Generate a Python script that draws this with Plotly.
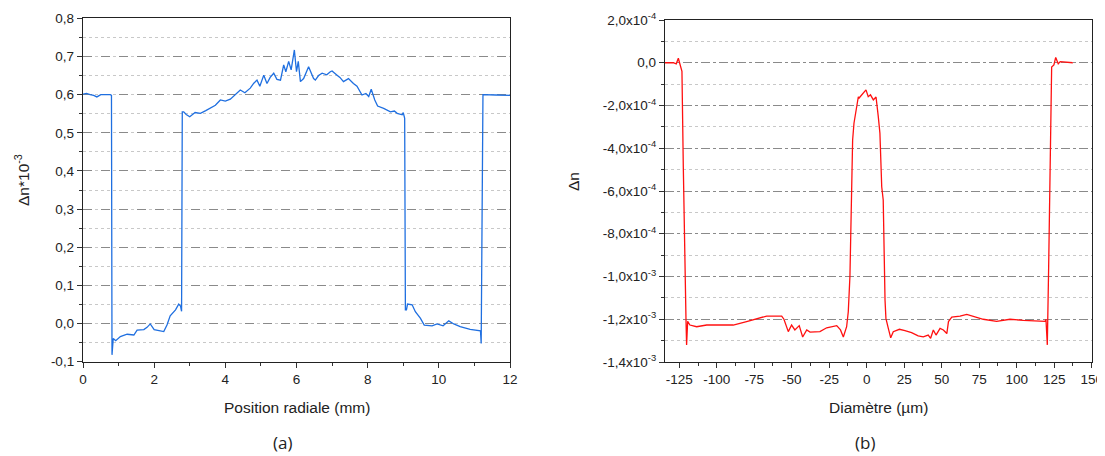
import plotly.graph_objects as go

# ---------------- Panel (a) data: radial position (mm) vs Δn*10^-3 ----------------
pos_a = [0.00, 0.10, 0.20, 0.30, 0.39, 0.50, 0.77, 0.80, 0.815, 0.85, 0.92, 1.05, 1.24, 1.43,
         1.52, 1.71, 1.80, 1.89, 2.00, 2.27, 2.36, 2.45, 2.60, 2.69, 2.74, 2.77, 2.79,
         2.83, 2.90, 3.00, 3.15, 3.30, 3.45, 3.58, 3.72, 3.86, 4.00, 4.14, 4.28, 4.42,
         4.55, 4.70, 4.80, 4.89, 4.97, 5.08, 5.17, 5.26, 5.36, 5.45, 5.55,
         5.64, 5.70, 5.78, 5.85, 5.94, 6.00, 6.05, 6.11, 6.20, 6.34, 6.48, 6.53, 6.62, 6.72,
         6.85, 6.95, 7.00, 7.14, 7.22, 7.32, 7.46, 7.60, 7.70, 7.84, 7.95, 8.03, 8.10, 8.20,
         8.28, 8.45, 8.55, 8.64, 8.75, 8.83, 8.97, 9.00, 9.04, 9.06, 9.09, 9.12, 9.25, 9.34,
         9.48, 9.59, 9.81, 9.95, 10.12, 10.28, 10.42, 10.60, 10.88, 11.17, 11.19, 11.22,
         11.24, 11.60, 12.00]
dn_a = [0.601, 0.603, 0.600, 0.598, 0.594, 0.600, 0.600, 0.598, -0.082, -0.039, -0.045, -0.034,
        -0.028, -0.030, -0.017, -0.016, -0.010, -0.001, -0.016, -0.021, -0.004, 0.020,
        0.036, 0.051, 0.046, 0.032, 0.555,
        0.555, 0.548, 0.542, 0.553, 0.551, 0.558, 0.564, 0.572, 0.586, 0.583, 0.588, 0.600,
        0.612, 0.605, 0.617, 0.630, 0.638, 0.622, 0.651, 0.629, 0.645, 0.656, 0.640, 0.638,
        0.678, 0.660, 0.687, 0.665, 0.717, 0.660, 0.687, 0.634, 0.642, 0.673, 0.642, 0.638,
        0.650, 0.656, 0.652, 0.660, 0.662, 0.651, 0.645, 0.634, 0.642, 0.629, 0.622, 0.599,
        0.603, 0.595, 0.614, 0.586, 0.570, 0.564, 0.560, 0.555, 0.557, 0.551, 0.547, 0.553,
        0.538, 0.036, 0.036, 0.051, 0.049, 0.031, 0.014, -0.004, -0.006, -0.001, -0.006,
        0.007, -0.001, -0.008, -0.015, -0.019, -0.052, 0.600, 0.600, 0.599, 0.598]

# ---------------- Panel (b) data: diameter (µm) vs Δn (x1e-4) ----------------
dia_b = [-134.5, -129.0, -127.0, -125.6, -124.8, -124.0, -123.2, -122.3, -121.9, -121.2,
         -120.5, -120.1, -119.4, -117.9, -113.4, -106.7, -89.0, -80.1, -71.2, -66.7,
         -56.7, -55.2, -52.3, -50.1, -47.9, -45.0, -42.7, -40.0, -37.8, -31.2, -26.7,
         -20.0, -17.5, -15.6, -13.4, -12.3, -11.2, -10.0, -9.4, -8.5, -7.8, -6.7,
         -5.6, -5.1, -3.5, -2.3, -0.5, 1.0, 2.5, 4.4, 6.2, 7.7, 8.8, 10.0, 11.0, 12.2,
         12.8, 14.4, 16.0, 17.7, 21.8, 25.5, 29.9, 34.3, 37.7, 41.0, 42.6, 44.4, 46.2,
         48.9, 51.1, 53.4, 54.5, 56.7, 62.2, 66.7, 72.2, 77.7, 86.6, 95.5, 104.4, 113.3,
         118.9, 119.5, 120.4, 121.3, 122.2, 123.3, 124.8, 126.0, 127.7, 129.0, 137.4]
dn_b = [0.00, 0.00, -0.05, 0.21, 0.00, -0.20, -0.40, -4.86, -6.42, -11.10,
        -12.04, -13.20, -12.10, -12.27, -12.35, -12.27, -12.27, -12.11, -11.96, -11.85,
        -11.85, -12.00, -12.58, -12.27, -12.50, -12.30, -12.83, -12.50, -12.60, -12.58,
        -12.40, -12.30, -12.50, -12.83, -12.35, -11.65, -10.00, -5.80, -3.61, -2.83,
        -2.52, -2.21, -1.59, -1.65, -1.50, -1.43, -1.27, -1.59, -1.50, -1.74, -1.60,
        -2.52, -3.30, -5.80, -6.42, -11.10, -11.96, -12.43, -12.87, -12.58, -12.47,
        -12.53, -12.63, -12.78, -12.82, -12.74, -12.89, -12.50, -12.74, -12.43, -12.50,
        -12.67, -12.11, -11.90, -11.85, -11.77, -11.90, -12.00, -12.10, -12.00, -12.05,
        -12.10, -12.10, -12.00, -13.20, -9.54, -5.80, -0.20, -0.10, 0.25, -0.05, 0.05, 0.00]

# Tick definitions
ticks_a_x = [0, 2, 4, 6, 8, 10, 12]
ticks_a_y = [-0.1, 0.0, 0.1, 0.2, 0.3, 0.4, 0.5, 0.6, 0.7, 0.8]
labels_a_y = ["-0,1", "0,0", "0,1", "0,2", "0,3", "0,4", "0,5", "0,6", "0,7", "0,8"]
ticks_b_x = [-125, -100, -75, -50, -25, 0, 25, 50, 75, 100, 125, 150]
labels_b_x = ["-125", "-100", "-75", "-50", "-25", "0", "25", "50", "75", "100", "125", "150"]
ticks_b_y = [2, 0, -2, -4, -6, -8, -10, -12, -14]
labels_b_y = ["2,0x10<sup>-4</sup>", "0,0", "-2,0x10<sup>-4</sup>", "-4,0x10<sup>-4</sup>",
              "-6,0x10<sup>-4</sup>", "-8,0x10<sup>-4</sup>", "-1,0x10<sup>-3</sup>",
              "-1,2x10<sup>-3</sup>", "-1,4x10<sup>-3</sup>"]

FONT = "Liberation Sans, Arial, sans-serif"
# The page body has an 8px margin, so the figure is drawn at (8, 8) in the window.
OFF = 8
W, H = 1105 - OFF, 456 - OFF


def px(x):
    return (x - OFF) / W


def py(y):
    return 1 - (y - OFF) / H


fig = go.Figure()
fig.add_trace(go.Scatter(x=pos_a, y=dn_a, mode="lines", xaxis="x", yaxis="y",
                         line=dict(color="#1f6fe0", width=1.3), showlegend=False))
fig.add_trace(go.Scatter(x=dia_b, y=dn_b, mode="lines", xaxis="x2", yaxis="y2",
                         line=dict(color="#ff1010", width=1.3), showlegend=False))

common_axis = dict(showline=True, linecolor="#222222", linewidth=1.3, mirror=True,
                   ticks="outside", ticklen=5, tickwidth=1.2, tickcolor="#333333",
                   tickfont=dict(family=FONT, size=13.5, color="#222222"),
                   zeroline=False, automargin=False)

fig.update_layout(
    width=W, height=H,
    margin=dict(l=0, r=0, t=0, b=0, autoexpand=False),
    paper_bgcolor="white", plot_bgcolor="white",
    font=dict(family=FONT, color="#222222"),
    xaxis=dict(domain=[px(83), px(510)], range=[0, 12], tickmode="array", tickvals=ticks_a_x,
               showgrid=False, anchor="y",
               minor=dict(dtick=1, ticks="outside", ticklen=3, tickcolor="#333333", showgrid=False),
               **common_axis),
    yaxis=dict(domain=[py(361.7), py(18.3)], range=[-0.1, 0.8], tickmode="array",
               tickvals=ticks_a_y, ticktext=labels_a_y, anchor="x",
               showgrid=True, gridcolor="#8a8a8a", griddash="dash", gridwidth=1,
               minor=dict(dtick=0.05, tick0=0, ticks="outside", ticklen=3, tickcolor="#333333",
                          showgrid=True, gridcolor="#c8c8c8", griddash="dot", gridwidth=1),
               **common_axis),
    xaxis2=dict(domain=[px(665), px(1091.7)], range=[-134.5, 150], tickmode="array",
                tickvals=ticks_b_x, ticktext=labels_b_x, showgrid=False, anchor="y2",
                minor=dict(dtick=12.5, tick0=0, ticks="outside", ticklen=3, tickcolor="#333333",
                           showgrid=False),
                **common_axis),
    yaxis2=dict(domain=[py(362), py(20)], range=[-14, 2], tickmode="array",
                tickvals=ticks_b_y, ticktext=labels_b_y, anchor="x2",
                showgrid=True, gridcolor="#8a8a8a", griddash="dashdot", gridwidth=1,
                minor=dict(dtick=1, tick0=0, ticks="outside", ticklen=3, tickcolor="#333333",
                           showgrid=True, gridcolor="#c8c8c8", griddash="dot", gridwidth=1),
                **common_axis),
)

ann_font = dict(family=FONT, size=15.5, color="#222222")
fig.add_annotation(text="Position radiale (mm)", xref="paper", yref="paper",
                   x=px(296.5), y=py(407), showarrow=False, font=ann_font,
                   xanchor="center", yanchor="middle")
fig.add_annotation(text="Diamètre (µm)", xref="paper", yref="paper",
                   x=px(878), y=py(407), showarrow=False, font=ann_font,
                   xanchor="center", yanchor="middle")
fig.add_annotation(text="Δn*10<sup>-3</sup>", xref="paper", yref="paper",
                   x=px(22), y=py(180), showarrow=False, font=ann_font, textangle=-90,
                   xanchor="center", yanchor="middle")
fig.add_annotation(text="Δn", xref="paper", yref="paper",
                   x=px(573), y=py(182), showarrow=False, font=ann_font, textangle=-90,
                   xanchor="center", yanchor="middle")
lab_font = dict(family="Open Sans, Lato, sans-serif", size=17, color="#222222")
fig.add_annotation(text="(a)", xref="paper", yref="paper", x=px(282), y=py(442),
                   showarrow=False, font=lab_font, xanchor="center", yanchor="middle")
fig.add_annotation(text="(b)", xref="paper", yref="paper", x=px(865), y=py(442),
                   showarrow=False, font=lab_font, xanchor="center", yanchor="middle")

fig.write_html("out.html")
